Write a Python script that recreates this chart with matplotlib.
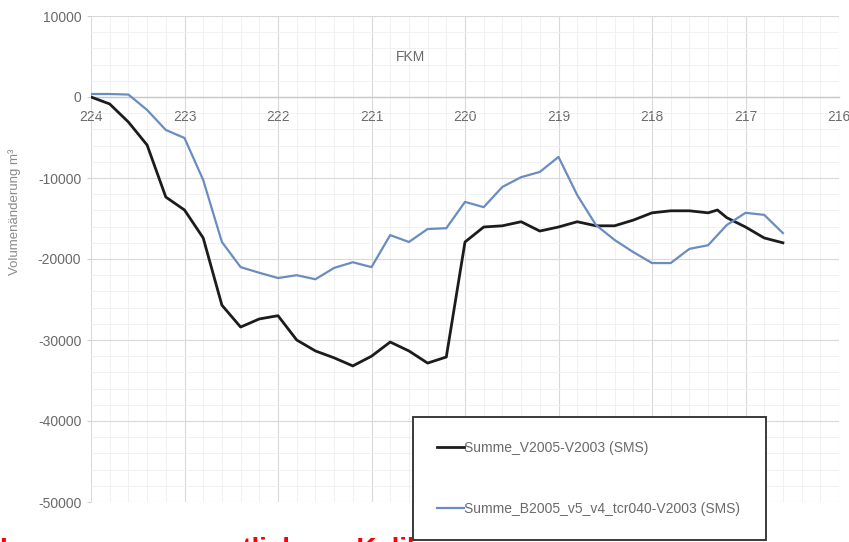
import matplotlib
matplotlib.use("Agg")
import matplotlib.pyplot as plt
from matplotlib.ticker import MultipleLocator, FuncFormatter

plt.rcParams["font.family"] = ["Liberation Sans", "DejaVu Sans"]
plt.rcParams["axes.unicode_minus"] = False

# Flusskilometer (FKM) and volume change per section
km_v2005 = [224.0, 223.8, 223.6, 223.4, 223.2, 223.0, 222.8, 222.6, 222.4, 222.2,
            222.0, 221.8, 221.6, 221.4, 221.2, 221.0, 220.8, 220.6, 220.4, 220.2,
            220.0, 219.8, 219.6, 219.4, 219.2, 219.0, 218.8, 218.6, 218.4, 218.2,
            218.0, 217.8, 217.6, 217.4, 217.3, 217.2, 217.0, 216.8, 216.6]
summe_v2005 = [0, -860, -3090, -5930, -12350, -13950, -17400, -25700, -28400, -27400,
               -27000, -30000, -31350, -32200, -33200, -32000, -30250, -31350, -32850, -32100,
               -17900, -16050, -15900, -15400, -16550, -16050, -15400, -15900, -15900, -15200,
               -14300, -14050, -14050, -14300, -13950, -14900, -16050, -17400, -18000]

km_b2005 = [224.0, 223.8, 223.6, 223.4, 223.2, 223.0, 222.8, 222.6, 222.4, 222.2,
            222.0, 221.8, 221.6, 221.4, 221.2, 221.0, 220.8, 220.6, 220.4, 220.2,
            220.0, 219.8, 219.6, 219.4, 219.2, 219.0, 218.8, 218.6, 218.4, 218.2,
            218.0, 217.8, 217.6, 217.4, 217.2, 217.0, 216.8, 216.6]
summe_b2005 = [370, 370, 300, -1600, -4070, -5060, -10250, -17900, -21000, -21700,
               -22350, -22000, -22500, -21100, -20400, -21000, -17050, -17900, -16300, -16200,
               -12950, -13600, -11100, -9900, -9250, -7400, -12100, -15800, -17650, -19150,
               -20500, -20500, -18750, -18300, -15800, -14300, -14550, -16800]

series_labels = ["Summe_V2005-V2003 (SMS)", "Summe_B2005_v5_v4_tcr040-V2003 (SMS)"]

W, H = 849, 542
fig = plt.figure(figsize=(W / 100, H / 100), dpi=100)
ax = fig.add_axes([91 / W, 1 - 502 / H, (839 - 91) / W, (502 - 16) / H])

l1, = ax.plot(km_v2005, summe_v2005, color="#1c1c1c", lw=2.0, solid_joinstyle="round", zorder=3)
l2, = ax.plot(km_b2005, summe_b2005, color="#6a8cc0", lw=1.6, solid_joinstyle="round", zorder=3)

ax.set_xlim(224, 216)
ax.set_ylim(-50000, 10000)
ax.xaxis.set_major_locator(MultipleLocator(1))
ax.xaxis.set_minor_locator(MultipleLocator(0.2))
ax.yaxis.set_major_locator(MultipleLocator(10000))
ax.yaxis.set_minor_locator(MultipleLocator(2000))
ax.xaxis.set_major_formatter(FuncFormatter(lambda v, p: f"{v:.0f}"))
ax.yaxis.set_major_formatter(FuncFormatter(lambda v, p: f"{v:.0f}"))

ax.grid(which="major", color="#d9d9d9", lw=0.8, zorder=0)
ax.grid(which="minor", color="#efefef", lw=0.6, zorder=0)
ax.set_axisbelow(True)

for s in ["top", "right", "left"]:
    ax.spines[s].set_visible(False)
ax.spines["bottom"].set_position(("data", 0))
ax.spines["bottom"].set_color("#c8c8c8")
ax.spines["bottom"].set_linewidth(1.0)

ax.tick_params(axis="x", which="both", length=0, pad=9.5, labelsize=10, labelcolor="#6a6a6a")
ax.tick_params(axis="y", which="major", length=3, width=0.8, color="#d0d0d0", pad=4,
               labelsize=10, labelcolor="#6a6a6a")
ax.tick_params(axis="y", which="minor", length=0)

ax.text(0.427, 0.915, "FKM", transform=ax.transAxes, fontsize=10, color="#6a6a6a",
        ha="center", va="center")

fig.text(15 / W, 1 - 212 / H, "Volumenänderung m³", rotation=90, fontsize=9.5,
         color="#8a8a8a", ha="center", va="center")

leg = ax.legend([l1, l2], series_labels, loc="upper left",
                bbox_to_anchor=(413 / W, 1 - 422 / H, 353 / W, 0.01),
                bbox_transform=fig.transFigure, mode="expand",
                fontsize=10, frameon=True, fancybox=False, framealpha=1.0,
                borderpad=1.75, labelspacing=3.4, handlelength=1.95,
                handletextpad=0.0, borderaxespad=0)
leg.get_frame().set_edgecolor("#3a3a3a")
leg.get_frame().set_linewidth(1.4)
leg.get_frame().set_facecolor("white")
for t in leg.get_texts():
    t.set_color("#6a6a6a")

fig.text(0.0, -15 / H, "Immer neu: wesentlich zur Kalibrierung", fontsize=20,
         fontweight="bold", color="#ff0000", ha="left", va="baseline", zorder=-1)

fig.savefig("out.png", dpi=100, facecolor="white")
